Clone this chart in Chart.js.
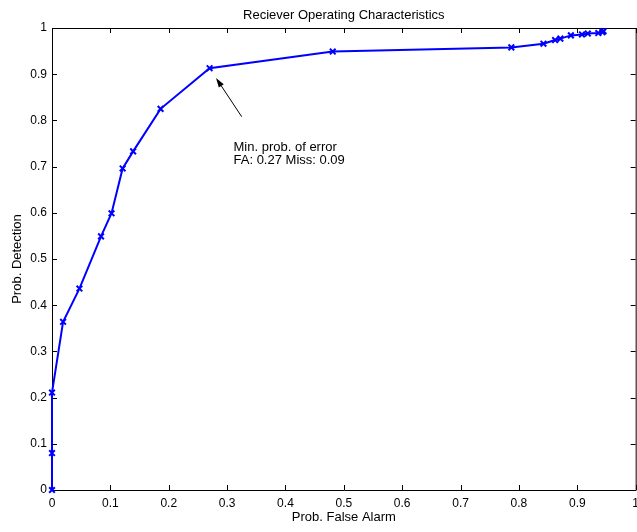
<!DOCTYPE html>
<html>
<head>
<meta charset="utf-8">
<script src="https://cdn.jsdelivr.net/npm/chart.js@4/dist/chart.umd.min.js"></script>
<style>
  html, body { margin: 0; padding: 0; background: #fff; overflow: hidden; }
  #wrap { width: 645px; height: 532px; }
</style>
</head>
<body>
<div id="wrap"><canvas id="roc" width="645" height="532"></canvas></div>
<script>
// ROC curve points
const falseAlarm = [0, 0, 0, 0.019, 0.047, 0.084, 0.102, 0.121, 0.139, 0.186, 0.27,
  0.481, 0.787, 0.842, 0.862, 0.871, 0.889, 0.908, 0.918, 0.936, 0.943, 0.945];
const detection = [0, 0.08, 0.211, 0.364, 0.436, 0.549, 0.599, 0.696, 0.733, 0.825, 0.913,
  0.949, 0.958, 0.966, 0.974, 0.977, 0.984, 0.986, 0.988, 0.989, 0.991, 0.993];

const tickValues = [0, 0.1, 0.2, 0.3, 0.4, 0.5, 0.6, 0.7, 0.8, 0.9, 1];

const noteLines = ['Min. prob. of error', 'FA: 0.27 Miss: 0.09'];
const notePos = [0.311, 0.743];
const arrowFrom = [0.325, 0.808];
const arrowTo = [0.281, 0.892];

const FONT = "'Liberation Sans', Arial, Helvetica, sans-serif";

// matlab style box with inward ticks on all four sides
const boxPlugin = {
  id: 'box',
  beforeDatasetsDraw(chart) {
    const { ctx, chartArea: a, scales } = chart;
    const len = 5;
    ctx.save();
    ctx.strokeStyle = '#000';
    ctx.lineWidth = 1;
    ctx.beginPath();
    ctx.rect(a.left + 0.5, a.top + 0.5, a.right - a.left, a.bottom - a.top);
    tickValues.forEach((v) => {
      const px = Math.round(scales.x.getPixelForValue(v)) + 0.5;
      const py = Math.round(scales.y.getPixelForValue(v)) + 0.5;
      ctx.moveTo(px, a.bottom); ctx.lineTo(px, a.bottom - len);
      ctx.moveTo(px, a.top); ctx.lineTo(px, a.top + len);
      ctx.moveTo(a.left, py); ctx.lineTo(a.left + len, py);
      ctx.moveTo(a.right, py); ctx.lineTo(a.right - len, py);
    });
    ctx.stroke();
    ctx.restore();
  }
};

const notePlugin = {
  id: 'note',
  afterDatasetsDraw(chart) {
    const { ctx, scales } = chart;
    const x = scales.x, y = scales.y;
    ctx.save();
    ctx.fillStyle = '#000';
    ctx.font = '13px ' + FONT;
    ctx.textBaseline = 'alphabetic';
    const tx = x.getPixelForValue(notePos[0]);
    const ty = y.getPixelForValue(notePos[1]);
    noteLines.forEach((line, i) => ctx.fillText(line, tx, ty + 4 + i * 13));

    const x1 = x.getPixelForValue(arrowFrom[0]), y1 = y.getPixelForValue(arrowFrom[1]);
    const x2 = x.getPixelForValue(arrowTo[0]), y2 = y.getPixelForValue(arrowTo[1]);
    const ang = Math.atan2(y2 - y1, x2 - x1);
    ctx.strokeStyle = '#000';
    ctx.lineWidth = 1;
    ctx.beginPath();
    ctx.moveTo(x1, y1);
    ctx.lineTo(x2 - 6 * Math.cos(ang), y2 - 6 * Math.sin(ang));
    ctx.stroke();
    ctx.beginPath();
    ctx.moveTo(x2, y2);
    ctx.lineTo(x2 - 10 * Math.cos(ang - 0.3), y2 - 10 * Math.sin(ang - 0.3));
    ctx.lineTo(x2 - 10 * Math.cos(ang + 0.3), y2 - 10 * Math.sin(ang + 0.3));
    ctx.closePath();
    ctx.fill();
    ctx.restore();
  }
};

const points = falseAlarm.map((fa, i) => ({ x: fa, y: detection[i] }));

new Chart(document.getElementById('roc'), {
  type: 'line',
  data: {
    datasets: [{
      data: points,
      borderColor: '#0000ff',
      backgroundColor: '#0000ff',
      borderWidth: 2,
      pointStyle: 'crossRot',
      pointRadius: 4,
      pointBorderWidth: 2,
      pointBorderColor: '#0000ff',
      tension: 0,
      fill: false,
      clip: false
    }]
  },
  options: {
    responsive: false,
    animation: false,
    events: [],
    layout: { padding: { left: 0, right: 7, top: 0, bottom: 0 } },
    plugins: {
      legend: { display: false },
      tooltip: { enabled: false },
      title: {
        display: true,
        text: 'Reciever Operating Characteristics',
        fullSize: false,
        color: '#000',
        font: { family: FONT, size: 13, weight: 'normal', lineHeight: 1.2 },
        padding: { top: 8, bottom: 4.4 }
      }
    },
    scales: {
      x: {
        type: 'linear',
        min: 0,
        max: 1,
        afterFit: (s) => { s.height = 42; },
        afterBuildTicks: (s) => { s.ticks = tickValues.map((v) => ({ value: v })); },
        grid: { display: false, drawTicks: false },
        border: { display: false },
        ticks: {
          color: '#000',
          padding: 6,
          maxRotation: 0,
          font: { family: FONT, size: 12 },
          callback: (v) => String(Math.round(v * 10) / 10)
        },
        title: {
          display: true,
          text: 'Prob. False Alarm',
          color: '#000',
          font: { family: FONT, size: 13 },
          padding: { top: 6.7, bottom: 6.7 }
        }
      },
      y: {
        type: 'linear',
        min: 0,
        max: 1,
        afterFit: (s) => { s.width = 52; },
        afterBuildTicks: (s) => { s.ticks = tickValues.map((v) => ({ value: v })); },
        grid: { display: false, drawTicks: false },
        border: { display: false },
        ticks: {
          color: '#000',
          padding: 5,
          font: { family: FONT, size: 12 },
          callback: (v) => String(Math.round(v * 10) / 10)
        },
        title: {
          display: true,
          text: 'Prob. Detection',
          color: '#000',
          font: { family: FONT, size: 13 },
          padding: { top: 10, bottom: 10 }
        }
      }
    }
  },
  plugins: [boxPlugin, notePlugin]
});
</script>
</body>
</html>
